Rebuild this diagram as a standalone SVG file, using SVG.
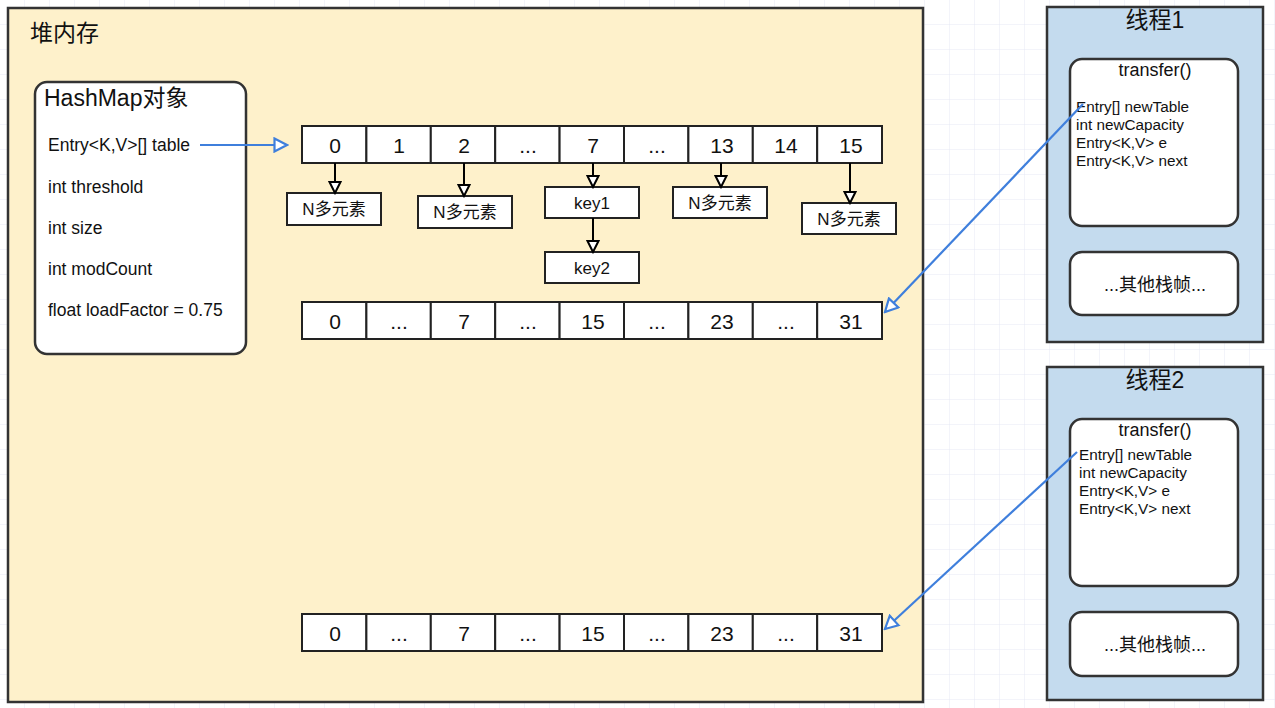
<svg xmlns="http://www.w3.org/2000/svg" width="1275" height="708" viewBox="0 0 1275 708">
<defs>
<pattern id="grid" width="25" height="25" patternUnits="userSpaceOnUse">
<path d="M25 0V25M0 25H25" fill="none" stroke="#e6e9f5" stroke-width="1"/>
</pattern>
<marker id="ab" viewBox="0 0 14 14" refX="12.5" refY="7" markerWidth="14" markerHeight="14" markerUnits="userSpaceOnUse" orient="auto">
<path d="M1.5 1.5L12.5 7L1.5 12.5Z" fill="#ffffff" stroke="#000" stroke-width="2"/>
</marker>
<marker id="au" viewBox="0 0 16 16" refX="14" refY="8" markerWidth="16" markerHeight="16" markerUnits="userSpaceOnUse" orient="auto">
<path d="M1.5 1.5L14 8L1.5 14.5Z" fill="#ffffff" stroke="#3f7fdc" stroke-width="2.2"/>
</marker>
</defs>
<style>
text{font-family:"Liberation Sans","Noto Sans CJK SC",sans-serif;fill:#111}
.cell{fill:#fff;stroke:#222;stroke-width:2}
.big{font-size:21px;text-anchor:middle;dominant-baseline:central}
.box{fill:#fff;stroke:#222;stroke-width:2}
.lbl{font-size:17px;text-anchor:middle;dominant-baseline:central}
.fld{font-size:17.5px;dominant-baseline:central}
.sm{font-size:15.3px;dominant-baseline:central}
.rb{fill:#fff;stroke:#333;stroke-width:2.5}
.blk{stroke:#000;stroke-width:2;fill:none;marker-end:url(#ab)}
.blue{stroke:#3f7fdc;stroke-width:2.2;fill:none;marker-end:url(#au)}
</style>
<rect width="1275" height="708" fill="#fff"/>
<rect width="1275" height="708" fill="url(#grid)"/>

<g id="heap">
<rect x="8" y="8" width="915" height="694" fill="#fef1cb" stroke="#333" stroke-width="2.5"/>
<text x="30" y="33" font-size="23" dominant-baseline="central">堆内存</text>
</g>

<g id="hashmap">
<rect class="rb" x="35" y="82" width="211" height="272" rx="12"/>
<text x="44" y="98" font-size="23" dominant-baseline="central">HashMap对象</text>
<text class="fld" x="48" y="145">Entry&lt;K,V&gt;[] table</text>
<text class="fld" x="48" y="187">int threshold</text>
<text class="fld" x="48" y="228">int size</text>
<text class="fld" x="48" y="269">int modCount</text>
<text class="fld" x="48" y="310">float loadFactor = 0.75</text>
</g>

<g id="table16">
<rect class="cell" x="302" y="126" width="64.4" height="37"/>
<rect class="cell" x="366.4" y="126" width="64.4" height="37"/>
<rect class="cell" x="430.8" y="126" width="64.4" height="37"/>
<rect class="cell" x="495.2" y="126" width="64.4" height="37"/>
<rect class="cell" x="559.6" y="126" width="64.4" height="37"/>
<rect class="cell" x="624" y="126" width="64.4" height="37"/>
<rect class="cell" x="688.4" y="126" width="64.4" height="37"/>
<rect class="cell" x="752.8" y="126" width="64.4" height="37"/>
<rect class="cell" x="817.2" y="126" width="64.8" height="37"/>
<text class="big" x="335" y="145">0</text>
<text class="big" x="399" y="145">1</text>
<text class="big" x="464" y="145">2</text>
<text class="big" x="528" y="145">...</text>
<text class="big" x="593" y="145">7</text>
<text class="big" x="657" y="145">...</text>
<text class="big" x="722" y="145">13</text>
<text class="big" x="786" y="145">14</text>
<text class="big" x="851" y="145">15</text>
</g>

<g id="n0"><rect class="box" x="287" y="193" width="94" height="32"/><text class="lbl" x="334" y="209">N多元素</text></g>
<g id="n2"><rect class="box" x="418" y="196" width="94" height="32"/><text class="lbl" x="465" y="212">N多元素</text></g>
<g id="key1"><rect class="box" x="545" y="187" width="94" height="31"/><text class="lbl" x="592" y="203">key1</text></g>
<g id="key2"><rect class="box" x="545" y="252" width="94" height="31"/><text class="lbl" x="592" y="268">key2</text></g>
<g id="n13"><rect class="box" x="673" y="187" width="94" height="31"/><text class="lbl" x="720" y="203">N多元素</text></g>
<g id="n15"><rect class="box" x="802" y="203" width="94" height="31"/><text class="lbl" x="849" y="219">N多元素</text></g>

<g id="table32a">
<rect class="cell" x="302" y="302" width="64.4" height="37"/>
<rect class="cell" x="366.4" y="302" width="64.4" height="37"/>
<rect class="cell" x="430.8" y="302" width="64.4" height="37"/>
<rect class="cell" x="495.2" y="302" width="64.4" height="37"/>
<rect class="cell" x="559.6" y="302" width="64.4" height="37"/>
<rect class="cell" x="624" y="302" width="64.4" height="37"/>
<rect class="cell" x="688.4" y="302" width="64.4" height="37"/>
<rect class="cell" x="752.8" y="302" width="64.4" height="37"/>
<rect class="cell" x="817.2" y="302" width="64.8" height="37"/>
<text class="big" x="335" y="321">0</text>
<text class="big" x="399" y="321">...</text>
<text class="big" x="464" y="321">7</text>
<text class="big" x="528" y="321">...</text>
<text class="big" x="593" y="321">15</text>
<text class="big" x="657" y="321">...</text>
<text class="big" x="722" y="321">23</text>
<text class="big" x="786" y="321">...</text>
<text class="big" x="851" y="321">31</text>
</g>

<g id="table32b">
<rect class="cell" x="302" y="614" width="64.4" height="37"/>
<rect class="cell" x="366.4" y="614" width="64.4" height="37"/>
<rect class="cell" x="430.8" y="614" width="64.4" height="37"/>
<rect class="cell" x="495.2" y="614" width="64.4" height="37"/>
<rect class="cell" x="559.6" y="614" width="64.4" height="37"/>
<rect class="cell" x="624" y="614" width="64.4" height="37"/>
<rect class="cell" x="688.4" y="614" width="64.4" height="37"/>
<rect class="cell" x="752.8" y="614" width="64.4" height="37"/>
<rect class="cell" x="817.2" y="614" width="64.8" height="37"/>
<text class="big" x="335" y="633">0</text>
<text class="big" x="399" y="633">...</text>
<text class="big" x="464" y="633">7</text>
<text class="big" x="528" y="633">...</text>
<text class="big" x="593" y="633">15</text>
<text class="big" x="657" y="633">...</text>
<text class="big" x="722" y="633">23</text>
<text class="big" x="786" y="633">...</text>
<text class="big" x="851" y="633">31</text>
</g>

<g id="thread1">
<rect x="1047" y="7" width="216" height="335" fill="#c4dbee" stroke="#333" stroke-width="2.5"/>
<text x="1155" y="20" font-size="23" text-anchor="middle" dominant-baseline="central">线程1</text>
<rect class="rb" x="1070" y="59" width="168" height="167" rx="12"/>
<text x="1155" y="70" font-size="18" text-anchor="middle" dominant-baseline="central">transfer()</text>
<text class="sm" x="1076" y="106">Entry[] newTable</text>
<text class="sm" x="1076" y="124">int newCapacity</text>
<text class="sm" x="1076" y="142">Entry&lt;K,V&gt; e</text>
<text class="sm" x="1076" y="160">Entry&lt;K,V&gt; next</text>
<rect class="rb" x="1070" y="252" width="168" height="63" rx="12"/>
<text x="1155" y="285" font-size="18" text-anchor="middle" dominant-baseline="central">...其他栈帧...</text>
</g>

<g id="thread2">
<rect x="1047" y="367" width="216" height="333" fill="#c4dbee" stroke="#333" stroke-width="2.5"/>
<text x="1155" y="380" font-size="23" text-anchor="middle" dominant-baseline="central">线程2</text>
<rect class="rb" x="1070" y="419" width="168" height="167" rx="12"/>
<text x="1155" y="430" font-size="18" text-anchor="middle" dominant-baseline="central">transfer()</text>
<text class="sm" x="1079" y="454">Entry[] newTable</text>
<text class="sm" x="1079" y="472">int newCapacity</text>
<text class="sm" x="1079" y="490">Entry&lt;K,V&gt; e</text>
<text class="sm" x="1079" y="508">Entry&lt;K,V&gt; next</text>
<rect class="rb" x="1070" y="612" width="168" height="64" rx="12"/>
<text x="1155" y="645" font-size="18" text-anchor="middle" dominant-baseline="central">...其他栈帧...</text>
</g>

<g id="connectors">
<path class="blue" d="M200 145H287"/>
<path class="blk" d="M335 163V193"/>
<path class="blk" d="M464 163V196"/>
<path class="blk" d="M593 163V187"/>
<path class="blk" d="M593 218V252"/>
<path class="blk" d="M721 163V187"/>
<path class="blk" d="M850 163V203"/>
<path class="blue" d="M1083 104L885 312"/>
<path class="blue" d="M1077 452L885 629"/>
</g>
</svg>
